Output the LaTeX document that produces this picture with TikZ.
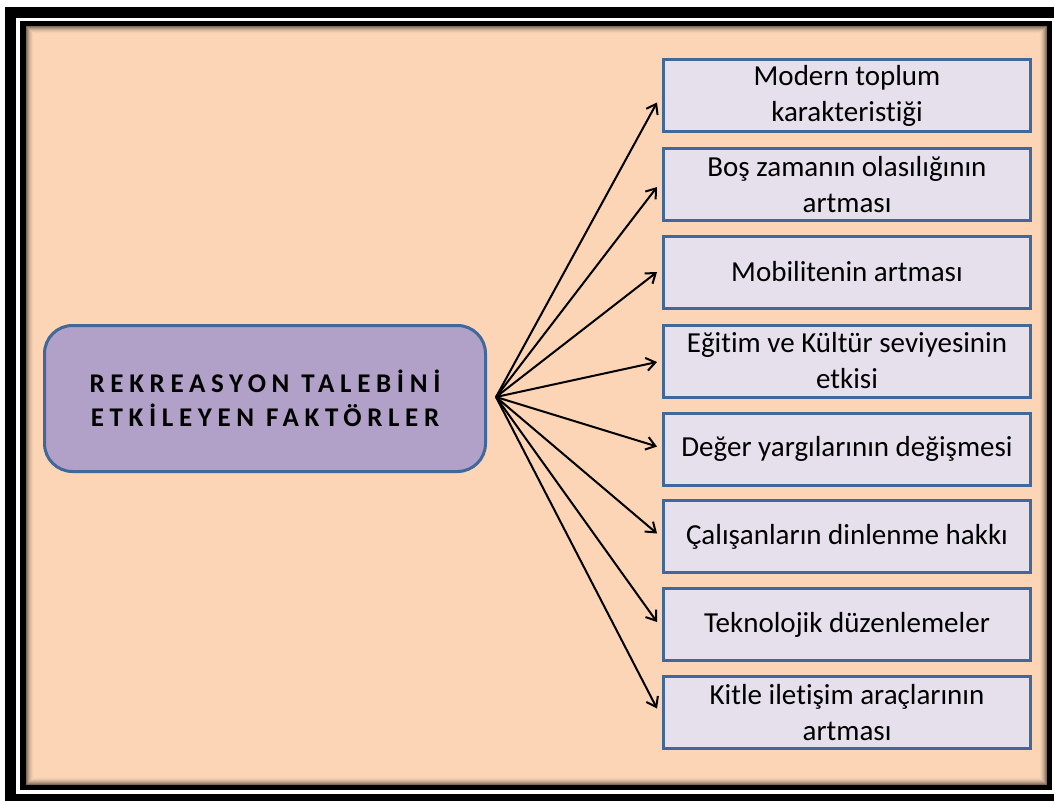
\documentclass[tikz,border=0pt]{standalone}
\usepackage{fontspec}
\setmainfont{Carlito}[Ligatures={NoCommon}]
\usetikzlibrary{arrows.meta,calc}
\definecolor{peach}{HTML}{FBD5B5}
\definecolor{lilac}{HTML}{B1A0C7}
\definecolor{boxfill}{HTML}{E5E0EC}
\definecolor{edgeblue}{HTML}{41689A}
\tikzset{
  factor/.style={draw=edgeblue, fill=boxfill, line width=3pt, minimum width=367pt, minimum height=72pt,
    anchor=north west, align=center, inner sep=0pt, font=\fontsize{29}{36}\selectfont},
  mainbox/.style={draw=edgeblue, fill=lilac, line width=3pt, rounded corners=28pt, minimum width=441pt,
    minimum height=146pt, anchor=north west, align=center, inner sep=0pt,
    font=\fontsize{27}{34}\selectfont\bfseries\addfontfeature{LetterSpace=21}},
  arr/.style={-{Straight Barb[length=9pt,width=13pt,line width=2pt]}, line width=2pt, black}
}
\begin{document}
\begin{tikzpicture}[x=1pt,y=-1pt]
\useasboundingbox (0,0) rectangle (1054,800);
\clip (0,0) rectangle (1054,800);
\fill[white] (0,0) rectangle (1054,800);
% frame
\fill[black] (5,7) rectangle (1070,815);
\fill[white] (16,18) rectangle (1060,793.5);
\fill[black] (20,21) rectangle (1052,790);
\fill[peach] (26,26) rectangle (1047,785);
\foreach \i in {0,...,7}{
  \pgfmathsetmacro{\op}{0.5*(1-\i/8)^2}
  \draw[black, opacity=\op, line width=1pt] (26.5+\i,26.5+\i) rectangle (1046.5-\i,784.5-\i);
}
% main node
\node[mainbox] (main) at (43,324) {REKREASYON TALEBİNİ\\ETKİLEYEN FAKTÖRLER};
\coordinate (src) at (496,397);
% factor boxes
\node[factor] (b1) at (662,58)    {Modern toplum\\karakteristiği};
\node[factor] (b2) at (662,147)   {Boş zamanın olasılığının\\artması};
\node[factor] (b3) at (662,234.5) {Mobilitenin artması};
\node[factor] (b4) at (662,323.5) {Eğitim ve Kültür seviyesinin\\etkisi};
\node[factor] (b5) at (662,411.5) {Değer yargılarının değişmesi};
\node[factor] (b6) at (662,499)   {Çalışanların dinlenme hakkı};
\node[factor] (b7) at (662,587)   {Teknolojik düzenlemeler};
\node[factor] (b8) at (662,675)   {Kitle iletişim araçlarının\\artması};
% arrows
\draw[arr] (src) -- ($(b1.west)+(-5,7)$);
\draw[arr] (src) -- ($(b2.west)+(-5,2.5)$);
\draw[arr] (src) -- ($(b3.west)+(-5,0)$);
\draw[arr] (src) -- ($(b4.west)+(-5,1)$);
\draw[arr] (src) -- ($(b5.west)+(-5,-2.5)$);
\draw[arr] (src) -- ($(b6.west)+(-5,-3)$);
\draw[arr] (src) -- ($(b7.west)+(-5,-2.5)$);
\draw[arr] (src) -- ($(b8.west)+(-5,-4)$);
\end{tikzpicture}
\end{document}
